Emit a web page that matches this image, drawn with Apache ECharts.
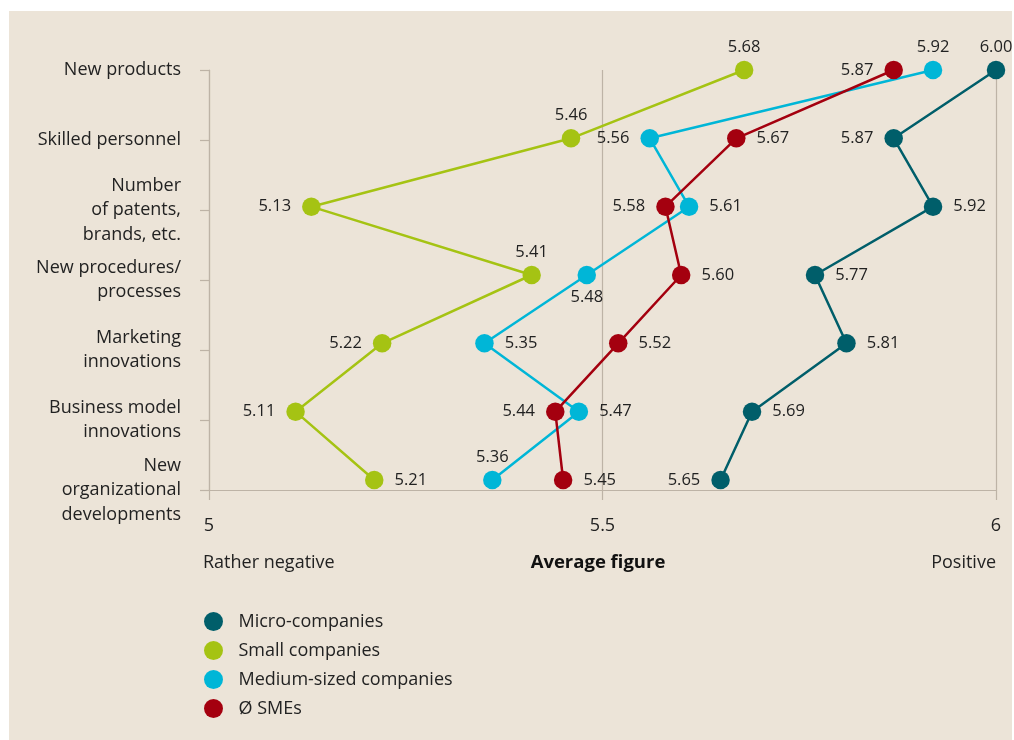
<!DOCTYPE html>
<html>
<head>
<meta charset="utf-8">
<script src="https://cdn.jsdelivr.net/npm/echarts@6/dist/echarts.min.js"></script>
<style>
html,body{margin:0;padding:0;background:#ffffff;}
#bg{position:absolute;left:9px;top:11px;width:1003px;height:729px;background:#ECE4D8;}
#chart{position:absolute;left:0;top:0;width:1014px;height:740px;}
</style>
</head>
<body>
<div id="bg"></div>
<div id="chart"></div>
<script>
const categories = [
  "New products",
  "Skilled personnel",
  "Number\nof patents,\nbrands, etc.",
  "New procedures/\nprocesses",
  "Marketing\ninnovations",
  "Business model\ninnovations",
  "New\norganizational\ndevelopments"
];
const xTicks = [5, 5.5, 6];
const seriesNames = ["Micro-companies", "Small companies", "Medium-sized companies", "\u00D8 SMEs"];
const microValues  = [6.00, 5.87, 5.92, 5.77, 5.81, 5.69, 5.65];
const smallValues  = [5.68, 5.46, 5.13, 5.41, 5.22, 5.11, 5.21];
const mediumValues = [5.92, 5.56, 5.61, 5.48, 5.35, 5.47, 5.36];
const smeValues    = [5.87, 5.67, 5.58, 5.60, 5.52, 5.44, 5.45];

// label placement (style only)
const microPos  = ["top", "left", "right", "right", "right", "right", "left"];
const smallPos  = ["top", "top", "left", "top", "left", "left", "right"];
const mediumPos = ["top", "left", "right", "bottom", "right", "right", "top"];
const smePos    = ["left", "right", "left", "right", "right", "left", "right"];
const colors = ["#005E6A", "#A5C313", "#00B6D7", "#A4000F"];

const FONT = "Open Sans";
const AXIS = "#BDB3A6";

function buildData(values, positions) {
  return values.map((v, i) => ({
    value: [v, categories[i]],
    label: {
      position: positions[i],
      distance: (positions[i] === "top" || positions[i] === "bottom") ? 5 : 11
    }
  }));
}

function makeSeries(idx, values, positions) {
  return {
    name: seriesNames[idx],
    type: "line",
    xAxisIndex: 1,
    yAxisIndex: 1,
    data: buildData(values, positions),
    symbol: "circle",
    symbolSize: 18.5,
    itemStyle: { color: colors[idx] },
    lineStyle: { color: colors[idx], width: 2.5 },
    label: {
      show: true,
      color: "#222",
      fontFamily: FONT,
      fontSize: 16.5,
      formatter: p => p.value[0].toFixed(2)
    },
    emphasis: { disabled: true }
  };
}

const chart = echarts.init(document.getElementById("chart"), null, { renderer: "canvas" });
chart.setOption({
  animation: false,
  backgroundColor: "transparent",
  textStyle: { fontFamily: FONT },
  grid: [
    { left: 209, right: 18, top: 70, height: 420 },
    { left: 209, right: 18, top: 70, height: 410 }
  ],
  xAxis: [
    {
      gridIndex: 0, type: "value", min: 5, max: 6, interval: 0.5,
      axisLine: { show: true, lineStyle: { color: AXIS, width: 1.2 } },
      axisTick: { show: true, length: 10, lineStyle: { color: AXIS, width: 1.2 } },
      splitLine: { show: true, lineStyle: { color: AXIS, width: 1.2 } },
      axisLabel: {
        color: "#222", fontFamily: FONT, fontSize: 18, margin: 27,
        formatter: v => xTicks.indexOf(v) >= 0 ? String(v) : ""
      }
    },
    {
      gridIndex: 1, type: "value", min: 5, max: 6, show: false
    }
  ],
  yAxis: [
    {
      gridIndex: 0, type: "category", data: categories, inverse: true, boundaryGap: false,
      axisLine: { show: true, lineStyle: { color: AXIS, width: 1.2 } },
      axisTick: { show: true, length: 9, alignWithLabel: true, lineStyle: { color: AXIS, width: 1.2 } },
      splitLine: { show: false },
      axisLabel: {
        color: "#222", fontFamily: FONT, fontSize: 18, lineHeight: 24.5, margin: 28, align: "right"
      }
    },
    {
      gridIndex: 1, type: "category", data: categories, inverse: true, boundaryGap: false, show: false
    }
  ],
  legend: {
    orient: "vertical",
    left: 204, top: 612,
    padding: 0,
    itemWidth: 20, itemHeight: 19, itemGap: 10,
    icon: "circle",
    data: seriesNames,
    textStyle: { color: "#222", fontFamily: FONT, fontSize: 18, padding: [0, 0, 0, 10] },
    selectedMode: false
  },
  graphic: [
    { type: "text", x: 203, y: 563, style: { text: "Rather negative", fill: "#222", font: "18px 'Open Sans'", textAlign: "left", textVerticalAlign: "middle" } },
    { type: "text", x: 598, y: 563, style: { text: "Average figure", fill: "#111", font: "bold 18.5px 'Open Sans'", textAlign: "center", textVerticalAlign: "middle" } },
    { type: "text", x: 996, y: 563, style: { text: "Positive", fill: "#222", font: "18px 'Open Sans'", textAlign: "right", textVerticalAlign: "middle" } }
  ],
  series: [
    makeSeries(0, microValues, microPos),
    makeSeries(1, smallValues, smallPos),
    makeSeries(2, mediumValues, mediumPos),
    makeSeries(3, smeValues, smePos)
  ]
});
</script>
</body>
</html>
